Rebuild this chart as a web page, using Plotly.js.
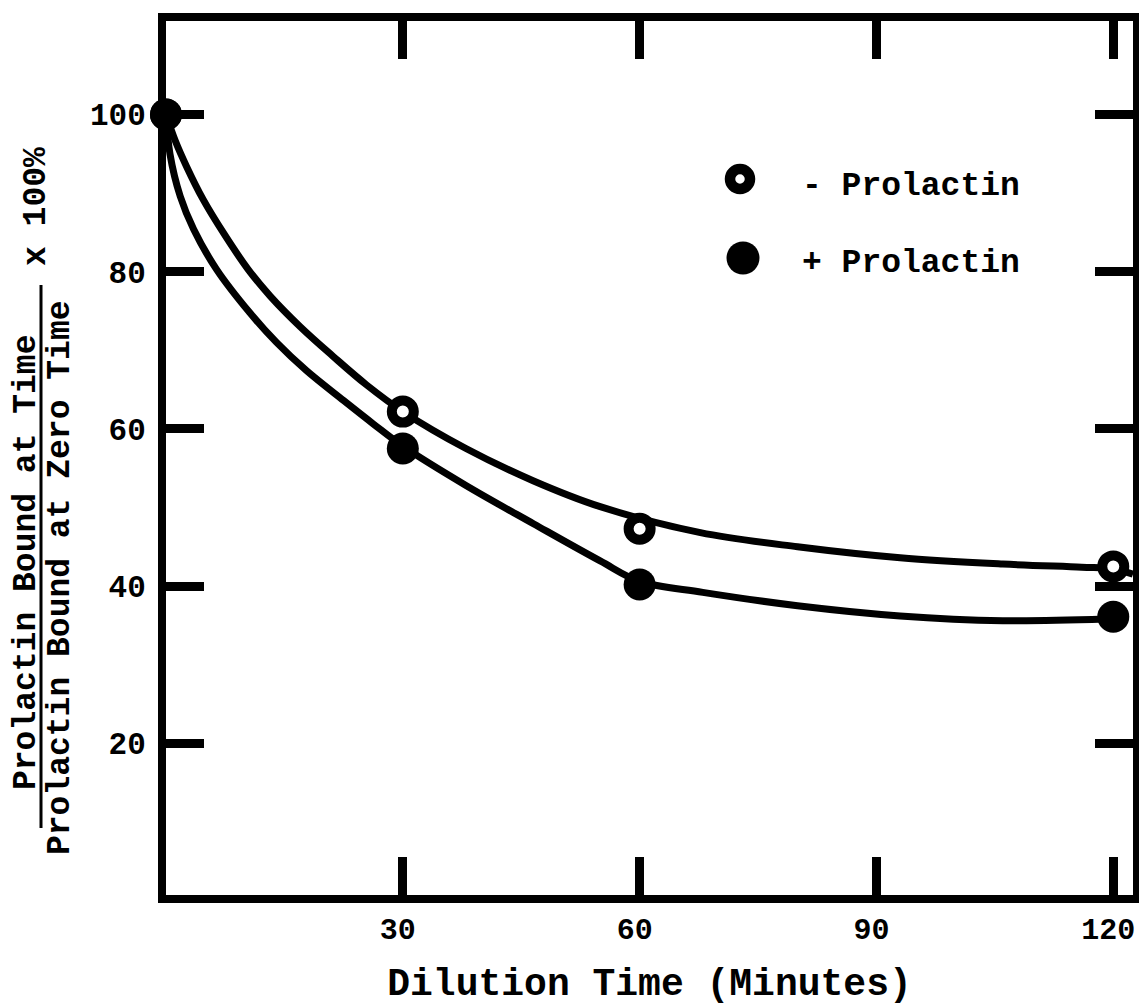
<!DOCTYPE html>
<html>
<head>
<meta charset="utf-8">
<script src="https://cdn.plot.ly/plotly-3.0.1.min.js"></script>
<style>
  html, body { margin: 0; padding: 0; background: #ffffff; }
  #chart { width: 1139px; height: 1006px; }
</style>
</head>
<body>
<div id="chart"></div>
<script>
// Measured points: prolactin bound after dilution, % of zero-time binding
const timeMin = [0, 30, 60, 120];
const boundMinusPrl = [100, 62.2, 47.3, 42.5];
const boundPlusPrl = [100, 57.5, 40.2, 36.1];

// Smooth hand-fitted curves through each series
const curveMinusX = [0, 1.2, 2.6, 4.7, 7.3, 10.4, 13.2, 17.0, 21.2, 25.4, 30, 38, 46.5, 55, 67.7, 80, 93, 106, 116, 120, 122.5];
const curveMinusY = [100, 96.6, 93.4, 89.2, 84.9, 80.3, 76.9, 73.0, 69.2, 65.6, 62.2, 57.5, 53.4, 50.1, 46.8, 45.0, 43.6, 42.8, 42.4, 42.2, 41.5];
const curvePlusX = [0, 0.5, 1.8, 3.5, 6.4, 10.6, 14.0, 17.8, 22.5, 26.3, 30, 38, 46.6, 55, 60, 68, 80, 93, 106, 119];
const curvePlusY = [100, 95.0, 89.6, 85.4, 80.3, 74.8, 71.0, 67.4, 63.6, 60.6, 57.8, 52.8, 47.9, 43.2, 40.6, 39.2, 37.5, 36.2, 35.6, 35.8];

const xTicks = [30, 60, 90, 120];
const yTicks = [20, 40, 60, 80, 100];
const legendLabels = ['- Prolactin', '+ Prolactin'];
const xTitle = 'Dilution Time (Minutes)';
const yTitleTop = 'Prolactin Bound at Time';
const yTitleBottom = 'Prolactin Bound at Zero Time';
const yTitleFactor = 'x 100%';

const FONT = 'Liberation Mono, Courier New, monospace';
const INK = '#000000';

// page geometry (pixels)
const W = 1139, H = 1006;
const M = { l: 166, r: 6, t: 21, b: 111 };
const plotW = W - M.l - M.r, plotH = H - M.t - M.b;
const px = x => (x - M.l) / plotW;          // page px -> paper x
const py = y => (H - M.b - y) / plotH;      // page px -> paper y

const curveLine = { color: INK, width: 7, shape: 'spline', smoothing: 1 };

const traces = [
  { x: curveMinusX, y: curveMinusY, mode: 'lines', line: curveLine, hoverinfo: 'skip', showlegend: false, cliponaxis: false },
  { x: curvePlusX, y: curvePlusY, mode: 'lines', line: curveLine, hoverinfo: 'skip', showlegend: false, cliponaxis: false },
  { x: timeMin, y: boundMinusPrl, mode: 'markers', name: legendLabels[0], showlegend: false, cliponaxis: false,
    marker: { symbol: 'circle', size: 22, color: '#ffffff', line: { color: INK, width: 10 } } },
  { x: timeMin, y: boundPlusPrl, mode: 'markers', name: legendLabels[1], showlegend: false, cliponaxis: false,
    marker: { symbol: 'circle', size: 32, color: INK, line: { width: 0 } } }
];

const textFont = size => ({ family: FONT, size: size, color: INK, weight: 'bold' });

const axisCommon = {
  showline: true, linecolor: INK, linewidth: 8, mirror: 'ticks',
  ticks: 'inside', ticklen: 38, tickwidth: 9, tickcolor: INK,
  showgrid: false, zeroline: false, fixedrange: true,
  tickfont: textFont(31)
};

const layout = {
  width: W, height: H,
  margin: M,
  paper_bgcolor: '#ffffff', plot_bgcolor: '#ffffff',
  showlegend: false,
  xaxis: Object.assign({}, axisCommon, {
    range: [0, 122.5], tickmode: 'array', tickvals: xTicks, ticktext: xTicks.map(String),
    tickfont: textFont(30), ticklabelshift: -5, ticklabelstandoff: 0,
    title: { text: xTitle, font: textFont(38), standoff: 26 }
  }),
  yaxis: Object.assign({}, axisCommon, {
    range: [0.69, 111.9], tickmode: 'array', tickvals: yTicks, ticktext: yTicks.map(String),
    ticklabelstandoff: 6
  }),
  shapes: [
    // fraction bar of the y-axis label
    { type: 'line', xref: 'paper', yref: 'paper', x0: px(41), x1: px(41), y0: py(285), y1: py(828),
      line: { color: INK, width: 3 } },
    // legend symbols
    { type: 'circle', xref: 'paper', yref: 'paper', xsizemode: 'pixel', ysizemode: 'pixel',
      xanchor: px(740), yanchor: py(179), x0: -10, x1: 10, y0: -10, y1: 10,
      fillcolor: '#ffffff', line: { color: INK, width: 10.5 } },
    { type: 'circle', xref: 'paper', yref: 'paper', xsizemode: 'pixel', ysizemode: 'pixel',
      xanchor: px(743), yanchor: py(258), x0: -16.5, x1: 16.5, y0: -16.5, y1: 16.5,
      fillcolor: INK, line: { width: 0 } }
  ],
  annotations: [
    { text: legendLabels[0], xref: 'paper', yref: 'paper', x: px(800), y: py(186), xanchor: 'left', yanchor: 'middle',
      showarrow: false, font: textFont(33) },
    { text: legendLabels[1], xref: 'paper', yref: 'paper', x: px(800), y: py(263), xanchor: 'left', yanchor: 'middle',
      showarrow: false, font: textFont(33) },
    { text: yTitleTop, xref: 'paper', yref: 'paper', x: px(26), y: py(563), xanchor: 'center', yanchor: 'middle',
      textangle: -90, showarrow: false, font: textFont(33) },
    { text: yTitleBottom, xref: 'paper', yref: 'paper', x: px(60), y: py(578), xanchor: 'center', yanchor: 'middle',
      textangle: -90, showarrow: false, font: textFont(33) },
    { text: yTitleFactor, xref: 'paper', yref: 'paper', x: px(37), y: py(207), xanchor: 'center', yanchor: 'middle',
      textangle: -90, showarrow: false, font: textFont(33) }
  ]
};

Plotly.newPlot('chart', traces, layout, { displayModeBar: false, staticPlot: true });
</script>
</body>
</html>
